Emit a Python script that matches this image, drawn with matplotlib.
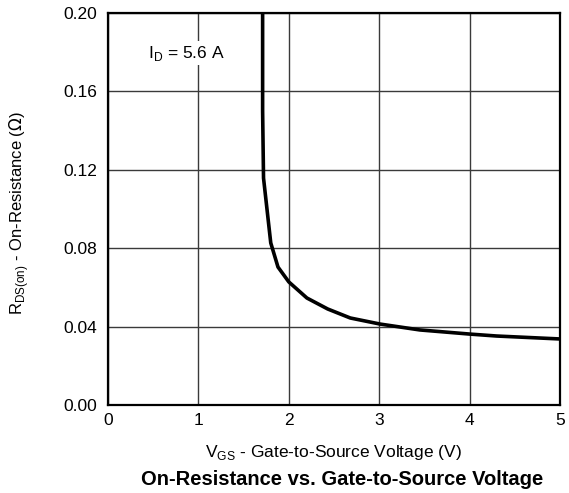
import numpy as np
import matplotlib.pyplot as plt

plt.rcParams['font.family'] = ['Liberation Sans', 'DejaVu Sans']

# curve
vgs = np.array([1.71, 1.71, 1.72, 1.80, 1.88, 2.00, 2.20, 2.43, 2.68, 3.01, 3.45, 4.00, 4.30, 5.00])
rds = np.array([0.200, 0.150, 0.1158, 0.0827, 0.0704, 0.0628, 0.0546, 0.0490, 0.0444, 0.0413, 0.0383, 0.0362, 0.0352, 0.0337])

xticks = [0, 1, 2, 3, 4, 5]
yticks = [0.00, 0.04, 0.08, 0.12, 0.16, 0.20]

fig = plt.figure(figsize=(5.69, 4.93), dpi=100)
ax = fig.add_axes([0.19, 0.1785, 0.794, 0.795])

ax.plot(vgs, rds, color="k", linewidth=2.6, solid_capstyle="butt", zorder=3)

ax.set_xlim(0, 5)
ax.set_ylim(0, 0.20)
ax.set_xticks(xticks)
ax.set_yticks(yticks)
ax.set_yticklabels(["%.2f" % v for v in yticks])
ax.tick_params(length=0, labelsize=12.5)
ax.tick_params(axis="y", pad=8)
ax.tick_params(axis="x", pad=6)
ax.grid(color="#3a3a3a", linewidth=1)
for s in ax.spines.values():
    s.set_linewidth(1.6)

ax.text(0.86, 0.1796, r"I$_\mathregular{D}$ = 5.6 A", fontsize=12.5, ha="center", va="center",
        bbox=dict(facecolor="white", edgecolor="none", pad=2), zorder=4)

ax.set_xlabel(r"V$_\mathregular{GS}$ - Gate-to-Source Voltage (V)", fontsize=12.5)
ax.xaxis.set_label_coords(0.498, -0.097)
ax.set_ylabel(r"R$_\mathregular{DS(on)}$ - On-Resistance ($\Omega$)", fontsize=12)
ax.yaxis.set_label_coords(-0.17, 0.49)
fig.text(0.601, 0.016, "On-Resistance vs. Gate-to-Source Voltage", fontsize=14.5,
         fontweight="bold", ha="center", va="baseline")

fig.savefig("out.png", dpi=100)
